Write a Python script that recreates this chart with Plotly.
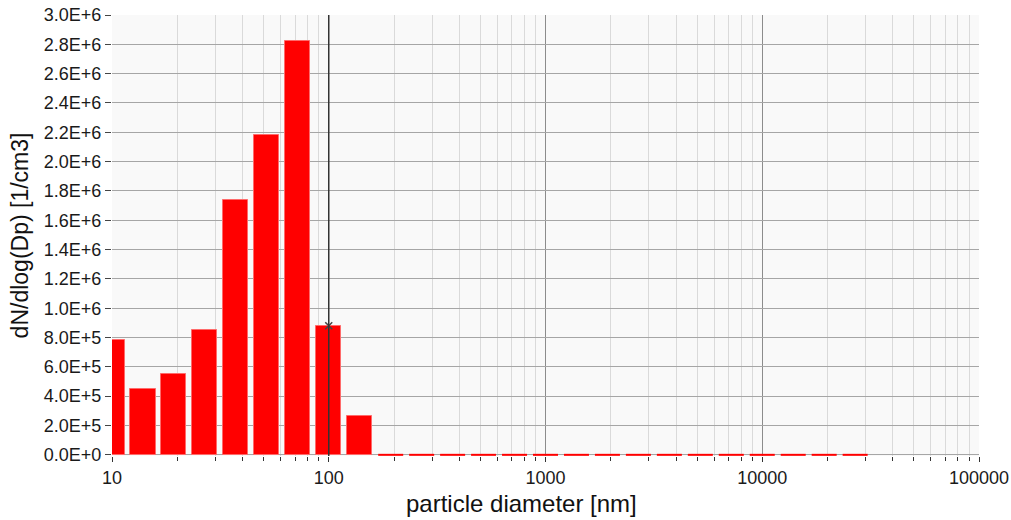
import plotly.graph_objects as go

# Size bins (nm), seven bins per decade
diameters = [10.0, 13.9, 19.3, 26.8, 37.3, 51.8, 72.0, 100.0, 138.9, 193.1,
             268.3, 372.8, 517.9, 719.7, 1000.0, 1389.5, 1930.7, 2682.7,
             3727.6, 5179.5, 7196.9, 10000.0, 13894.9, 19306.9, 26826.9]
# dN/dlog(Dp) per bin [1/cm3]
concentration = [7.8e5, 4.5e5, 5.5e5, 8.5e5, 1.74e6, 2.18e6, 2.82e6, 8.8e5,
                 2.67e5, 0, 0, 0, 0, 0, 0, 0, 0, 0, 0, 0, 0, 0, 0, 0, 0]

y_tickvals = [0, 2e5, 4e5, 6e5, 8e5, 1e6, 1.2e6, 1.4e6, 1.6e6, 1.8e6, 2e6,
              2.2e6, 2.4e6, 2.6e6, 2.8e6, 3e6]
y_ticktext = ["0.0E+0", "2.0E+5", "4.0E+5", "6.0E+5", "8.0E+5", "1.0E+6",
              "1.2E+6", "1.4E+6", "1.6E+6", "1.8E+6", "2.0E+6", "2.2E+6",
              "2.4E+6", "2.6E+6", "2.8E+6", "3.0E+6"]
x_tickvals = [10, 100, 1000, 10000, 100000]
x_ticktext = ["10", "100", "1000", "10000", "100000"]

cursor_d = 100.0
cursor_value = concentration[diameters.index(cursor_d)]

# bar half-width in decades (symmetric in log space)
HALF = 0.0577
lo = 10 ** -HALF
hi = 10 ** HALF

nz = [(d, v) for d, v in zip(diameters, concentration) if v > 0]
zz = [(d, v) for d, v in zip(diameters, concentration) if v == 0]

fig = go.Figure()

# filled bins as bars spanning [d*lo, d*hi]
d1 = [p[0] for p in nz]
fig.add_trace(go.Bar(
    x=d1, y=[p[1] for p in nz],
    offset=[d * lo - d for d in d1],
    width=[d * (hi - lo) for d in d1],
    marker=dict(color="#ff0000", line=dict(color="#ff6a6a", width=1)),
    hoverinfo="x+y", showlegend=False,
))

# empty bins as flat red segments on the baseline
zx, zy = [], []
for d, v in zz:
    zx += [d * lo, d * hi, None]
    zy += [v, v, None]
fig.add_trace(go.Scatter(
    x=zx, y=zy, mode="lines", line=dict(color="#ff0000", width=2),
    hoverinfo="skip", showlegend=False,
))

fig.add_trace(go.Scatter(
    x=[cursor_d], y=[cursor_value], mode="markers",
    marker=dict(symbol="x-thin", size=7, line=dict(color="#444444", width=1.5)),
    showlegend=False, hoverinfo="skip",
))

fig.add_shape(type="line", xref="x", yref="paper", x0=cursor_d, x1=cursor_d,
              y0=0, y1=1, line=dict(color="#333333", width=1.5), layer="above")

font_family = "Liberation Sans, Arial, sans-serif"

fig.add_annotation(
    text="particle diameter [nm]", xref="paper", yref="paper",
    x=0.472, y=0, yshift=-47, xanchor="center", yanchor="middle",
    showarrow=False, font=dict(size=24, color="#111111"),
)

fig.update_layout(
    width=1011, height=520,
    margin=dict(l=112, r=32, t=15, b=64, autoexpand=False),
    paper_bgcolor="white",
    plot_bgcolor="#f9f9f9",
    font=dict(family=font_family, size=18, color="#1a1a1a"),
    bargap=0,
    xaxis=dict(
        type="log", range=[1, 5], automargin=False,
        tickvals=x_tickvals, ticktext=x_ticktext,
        ticks="outside", ticklen=5, tickcolor="#333333", tickwidth=1,
        showgrid=True, gridcolor="#8c8c8c", gridwidth=1,
        zeroline=False, showline=False,
        minor=dict(dtick="D1", ticks="outside", ticklen=4, tickcolor="#333333",
                   showgrid=True, gridcolor="#dadada", gridwidth=1),
        tickfont=dict(size=18),
    ),
    yaxis=dict(
        range=[-8000, 3e6], automargin=False,
        tickvals=y_tickvals, ticktext=y_ticktext,
        ticks="outside", ticklen=6, tickcolor="#444444",
        showgrid=True, gridcolor="#a6a6a6", gridwidth=1,
        zeroline=False, showline=False,
        title=dict(text="dN/dlog(Dp) [1/cm3]", font=dict(size=23, color="#111111"),
                   standoff=8),
        tickfont=dict(size=18),
    ),
)

fig.write_html("out.html")
